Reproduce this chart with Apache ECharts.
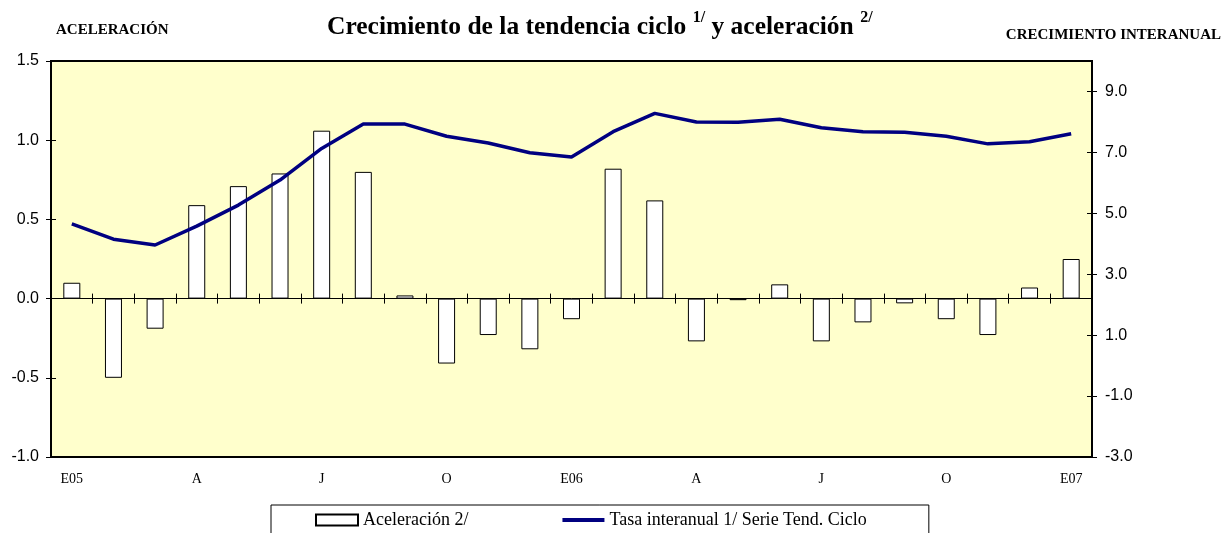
<!DOCTYPE html>
<html>
<head>
<meta charset="utf-8">
<title>Crecimiento de la tendencia ciclo y aceleración</title>
<script src="https://cdn.jsdelivr.net/npm/echarts@6.0.0/dist/echarts.min.js"></script>
<style>
  html, body { margin: 0; padding: 0; background: #fff; }
  #chart { width: 1224px; height: 533px; }
</style>
</head>
<body>
<div id="chart"></div>
<script>
// enero 2005 .. enero 2007
const months = [
  'Ene05', 'Feb05', 'Mar05', 'Abr05', 'May05', 'Jun05', 'Jul05', 'Ago05', 'Sep05', 'Oct05', 'Nov05', 'Dic05',
  'Ene06', 'Feb06', 'Mar06', 'Abr06', 'May06', 'Jun06', 'Jul06', 'Ago06', 'Sep06', 'Oct06', 'Nov06', 'Dic06',
  'Ene07'
];
const monthLabels = [
  'E05', '', '', 'A', '', '', 'J', '', '', 'O', '', '',
  'E06', '', '', 'A', '', '', 'J', '', '', 'O', '', '',
  'E07'
];

// aceleración 2/ (eje izquierdo)
const aceleracion = [
  0.10, -0.50, -0.19, 0.59, 0.71, 0.79, 1.06, 0.80, 0.02, -0.41, -0.23, -0.32,
  -0.13, 0.82, 0.62, -0.27, -0.01, 0.09, -0.27, -0.15, -0.03, -0.13, -0.23, 0.07,
  0.25
];

// tasa interanual 1/ serie tendencia ciclo (eje derecho)
const tasaInteranual = [
  4.65, 4.15, 3.96, 4.58, 5.27, 6.09, 7.13, 7.93, 7.93, 7.53, 7.31, 6.99,
  6.85, 7.68, 8.28, 8.00, 7.99, 8.09, 7.81, 7.68, 7.66, 7.53, 7.28, 7.35,
  7.61
];

const rightTicks = [-3, -1, 1, 3, 5, 7, 9];

const serif = 'Liberation Serif, Times New Roman, serif';
const sans = 'Liberation Sans, Arial, sans-serif';

const chart = echarts.init(document.getElementById('chart'));

const tickStyle = { color: '#000', width: 1 };

const option = {
  animation: false,
  title: [
    {
      left: 327,
      top: 10,
      padding: 0,
      text: '{a|Crecimiento de la tendencia ciclo }{s|1/}{a| y aceleración }{s|2/}',
      textStyle: {
        rich: {
          a: { fontFamily: serif, fontSize: 25.5, fontWeight: 'bold', lineHeight: 34, color: '#000' },
          s: { fontFamily: serif, fontSize: 16, fontWeight: 'bold', lineHeight: 22, verticalAlign: 'top', color: '#000' }
        }
      }
    },
    {
      left: 56,
      top: 23,
      padding: 0,
      text: 'ACELERACIÓN',
      textStyle: { fontFamily: serif, fontSize: 15, fontWeight: 'bold', color: '#000' }
    },
    {
      right: 3,
      top: 28,
      padding: 0,
      text: 'CRECIMIENTO INTERANUAL',
      textStyle: { fontFamily: serif, fontSize: 15, fontWeight: 'bold', color: '#000' }
    }
  ],
  tooltip: { trigger: 'axis' },
  legend: {
    left: 271,
    top: 505,
    padding: [6, 62, 5, 44],
    itemGap: 92,
    itemWidth: 42,
    itemHeight: 11,
    borderColor: '#000',
    borderWidth: 1,
    borderRadius: 0,
    textStyle: { fontFamily: serif, fontSize: 18, color: '#000' },
    data: [
      { name: 'Aceleración 2/', icon: 'rect' },
      {
        name: 'Tasa interanual 1/ Serie Tend. Ciclo',
        itemStyle: { opacity: 0 },
        lineStyle: { color: '#000080', width: 4 }
      }
    ]
  },
  grid: {
    left: 51,
    right: 132,
    top: 61,
    bottom: 76,
    show: true,
    backgroundColor: '#FFFFCC',
    borderColor: '#000',
    borderWidth: 2
  },
  xAxis: [
    {
      // linea del cero, marcas hacia abajo
      type: 'category',
      position: 'bottom',
      data: months,
      axisLine: { onZero: true, onZeroAxisIndex: 0, lineStyle: { color: '#000', width: 1 } },
      axisTick: { show: true, interval: 0, length: 5, lineStyle: tickStyle },
      axisLabel: { show: false },
      splitLine: { show: false }
    },
    {
      // marcas hacia arriba en el cero
      type: 'category',
      position: 'bottom',
      data: months,
      axisLine: { show: false, onZero: true, onZeroAxisIndex: 0 },
      axisTick: { show: true, interval: 0, inside: true, length: 5, lineStyle: tickStyle },
      axisLabel: { show: false },
      splitLine: { show: false }
    },
    {
      // etiquetas abajo
      type: 'category',
      position: 'bottom',
      data: months,
      axisLine: { show: false, onZero: false },
      axisTick: { show: false },
      axisLabel: {
        interval: 0,
        margin: 15,
        fontFamily: serif,
        fontSize: 14,
        color: '#000',
        formatter: (v, i) => monthLabels[i]
      },
      splitLine: { show: false }
    }
  ],
  yAxis: [
    {
      type: 'value',
      position: 'left',
      offset: -5,
      min: -1,
      max: 1.5,
      interval: 0.5,
      axisLine: { show: false },
      axisTick: { show: true, length: 10, lineStyle: tickStyle },
      axisLabel: {
        margin: 17,
        fontFamily: sans,
        fontSize: 16,
        color: '#000',
        formatter: (v) => v.toFixed(1)
      },
      splitLine: { show: false }
    },
    {
      type: 'value',
      position: 'right',
      offset: -5,
      min: -3,
      max: 10,
      axisLine: { show: false },
      axisTick: { show: true, length: 10, lineStyle: tickStyle, customValues: rightTicks },
      axisLabel: {
        margin: 18,
        fontFamily: sans,
        fontSize: 16,
        color: '#000',
        customValues: rightTicks,
        formatter: (v) => v.toFixed(1)
      },
      splitLine: { show: false }
    }
  ],
  series: [
    {
      name: 'Aceleración 2/',
      type: 'bar',
      xAxisIndex: 0,
      yAxisIndex: 0,
      data: aceleracion,
      barWidth: 17,
      itemStyle: { color: '#fff', borderColor: '#000', borderWidth: 1 }
    },
    {
      name: 'Tasa interanual 1/ Serie Tend. Ciclo',
      type: 'line',
      xAxisIndex: 0,
      yAxisIndex: 1,
      data: tasaInteranual,
      symbol: 'none',
      lineStyle: { color: '#000080', width: 3.5 },
      itemStyle: { color: '#000080' }
    }
  ]
};

chart.setOption(option);

window.addEventListener('resize', () => chart.resize());
</script>
</body>
</html>
